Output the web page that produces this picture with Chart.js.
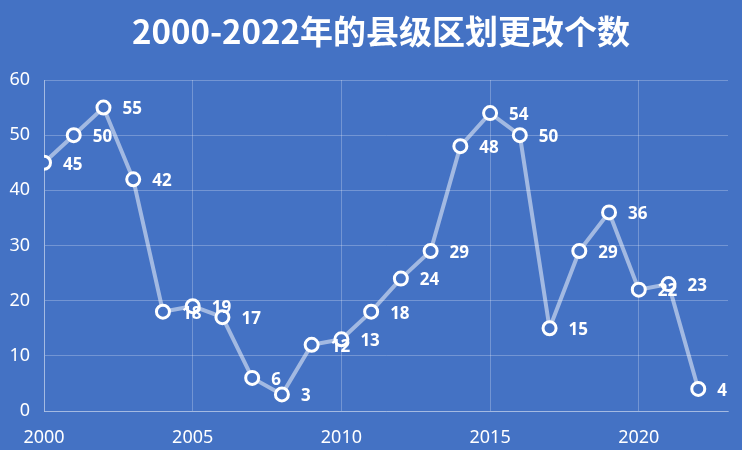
<!DOCTYPE html>
<html>
<head>
<meta charset="utf-8">
<script src="https://cdn.jsdelivr.net/npm/chart.js@4"></script>
<style>
  html, body { margin: 0; padding: 0; background: #4472C4; }
  #wrap { width: 742px; height: 450px; position: relative; }
</style>
</head>
<body>
<div id="wrap"><canvas id="c"></canvas></div>
<script>
// data
const years = [2000, 2001, 2002, 2003, 2004, 2005, 2006, 2007, 2008, 2009, 2010, 2011,
               2012, 2013, 2014, 2015, 2016, 2017, 2018, 2019, 2020, 2021, 2022];
const counts = [45, 50, 55, 42, 18, 19, 17, 6, 3, 12, 13, 18,
                24, 29, 48, 54, 50, 15, 29, 36, 22, 23, 4];
const xTicks = [2000, 2005, 2010, 2015, 2020];
const titleText = '2000-2022年的县级区划更改个数';

const points = years.map((y, i) => ({ x: y, y: counts[i] }));

const bgPlugin = {
  id: 'bg',
  beforeDraw(chart) {
    const ctx = chart.ctx;
    ctx.save();
    ctx.fillStyle = '#4472C4';
    ctx.fillRect(0, 0, chart.width, chart.height);
    ctx.restore();
  }
};

// title + value labels drawn by hand (no datalabels plugin here)
const labelPlugin = {
  id: 'labels',
  afterDatasetsDraw(chart) {
    const ctx = chart.ctx;
    ctx.save();
    ctx.fillStyle = '#ffffff';
    ctx.font = 'bold 17px "Noto Sans", "Liberation Sans", sans-serif';
    ctx.textAlign = 'left';
    ctx.textBaseline = 'middle';
    chart.getDatasetMeta(0).data.forEach((pt, i) => {
      ctx.fillText(String(counts[i]), pt.x + 19, pt.y + 2);
    });
    ctx.font = 'bold 33px "Noto Sans CJK SC", "Noto Sans", sans-serif';
    ctx.textAlign = 'center';
    ctx.fillText(titleText, 381, 31);
    ctx.restore();
  }
};

new Chart(document.getElementById('c'), {
  type: 'line',
  data: {
    datasets: [{
      data: points,
      borderColor: 'rgba(255,255,255,0.5)',
      borderWidth: 4,
      tension: 0,
      pointRadius: 6.5,
      pointBorderWidth: 3,
      pointBorderColor: '#ffffff',
      pointBackgroundColor: '#4472C4'
    }]
  },
  options: {
    responsive: true,
    maintainAspectRatio: false,
    animation: false,
    layout: { padding: { top: 80, right: 14, left: 0, bottom: 0 } },
    plugins: {
      legend: { display: false },
      tooltip: { enabled: false },
      title: { display: false }
    },
    scales: {
      x: {
        type: 'linear',
        min: 2000,
        max: 2023,
        afterBuildTicks: s => { s.ticks = xTicks.map(v => ({ value: v })); },
        afterFit: s => { s.height = 39; },
        ticks: {
          color: '#ffffff',
          padding: 16,
          font: { family: '"Noto Sans", sans-serif', size: 18 },
          callback: v => String(v)
        },
        grid: { color: 'rgba(255,255,255,0.25)', lineWidth: 1, drawTicks: false },
        border: { color: 'rgba(255,255,255,0.35)' }
      },
      y: {
        min: 0,
        max: 60,
        afterFit: s => { s.width = 44; },
        ticks: {
          stepSize: 10,
          color: '#ffffff',
          padding: 14,
          font: { family: '"Noto Sans", sans-serif', size: 18 }
        },
        grid: { color: 'rgba(255,255,255,0.25)', lineWidth: 1, drawTicks: false },
        border: { color: 'rgba(255,255,255,0.35)' }
      }
    }
  },
  plugins: [bgPlugin, labelPlugin]
});
</script>
</body>
</html>
